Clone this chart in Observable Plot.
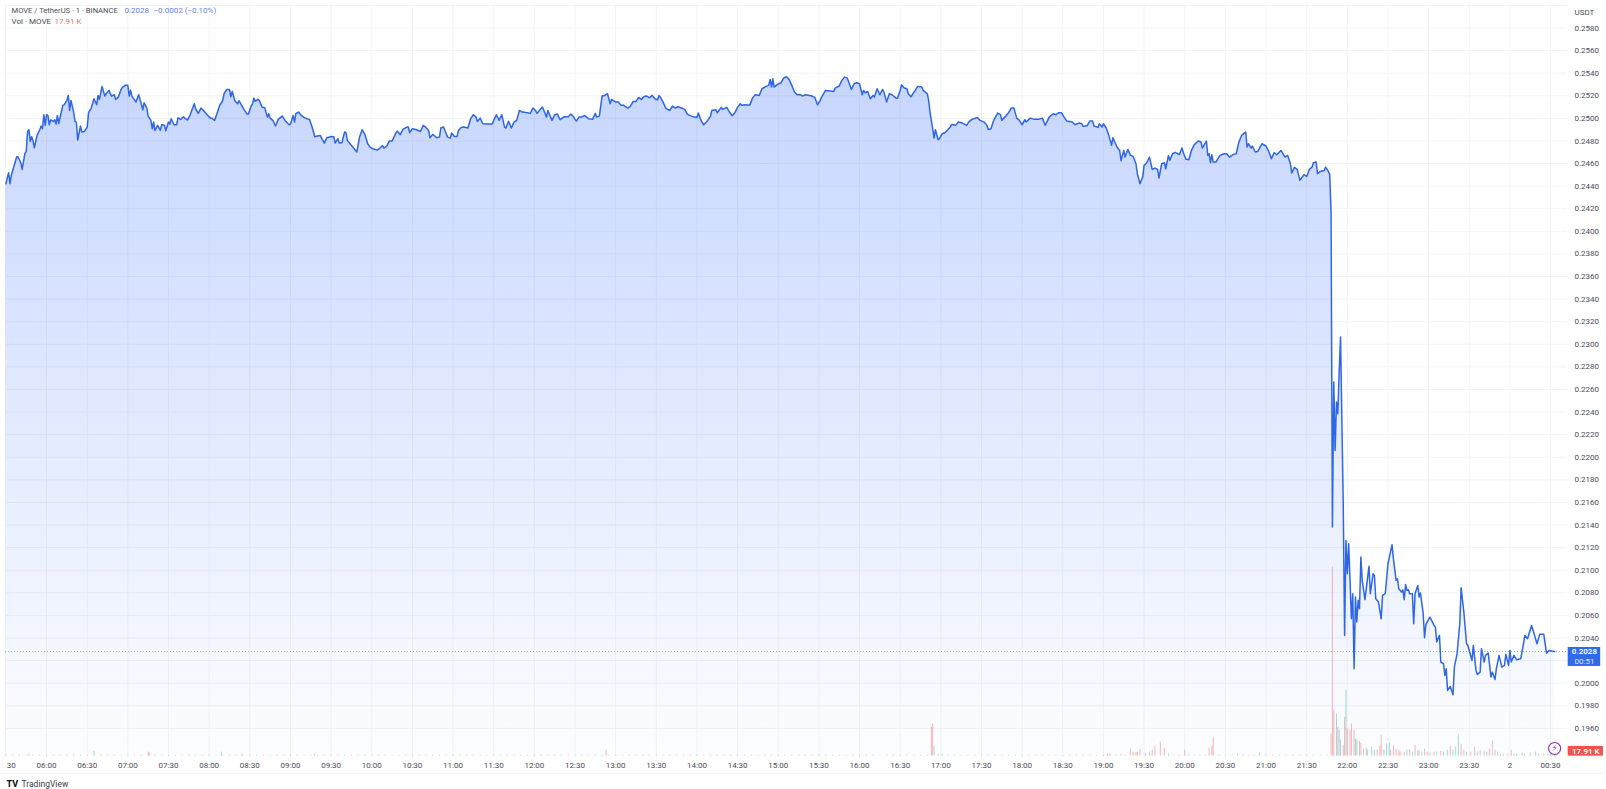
<!DOCTYPE html>
<html>
<head>
<meta charset="utf-8">
<script src="https://cdn.jsdelivr.net/npm/d3@7"></script>
<script src="https://cdn.jsdelivr.net/npm/@observablehq/plot@0.6"></script>
<style>
html,body{margin:0;padding:0;background:#fff;overflow:hidden}
svg{display:block}
</style>
</head>
<body>
<div id="chart"></div>
<script>
// Minutes after 05:30 for each price reading
const minutes = [
0,2,3,4,6,8,9,11,12,14,15,16,17,18,19,20,21,23,25,26,27,28,29,30,31,32,33,35,36,37,38,39,41,42,43,45,46,47,48,50,51,52,53,55,56,58,60,61,63,65,67,68,69,71,73,74,76,78,80,81,83,85,86,88,90,91,92,93,96,98,99,101,102,104,105,107,108,109,110,112,114,115,117,118,120,121,122,124,126,127,129,131,132,134,136,139,140,142,144,146,149,151,152,154,156,158,160,161,163,165,166,167,169,171,172,174,176,178,179,181,182,183,184,186,187,189,191,193,194,195,197,199,201,204,206,209,210,212,213,214,216,218,220,222,224,226,228,230,232,233,235,237,238,240,
242,243,245,246,248,250,251,252,254,256,259,261,263,265,267,269,271,274,276,278,279,281,283,285,288,289,291,293,296,297,298,300,303,306,308,310,312,313,315,318,320,321,323,324,326,328,329,331,333,334,336,338,341,343,345,347,348,350,352,355,359,360,362,364,366,368,369,371,373,375,377,379,381,385,387,389,391,392,394,396,399,400,403,405,407,409,412,415,417,419,421,423,425,427,430,433,435,436,438,440,442,444,446,447,450,452,454,456,459,461,463,465,467,469,471,473,475,477,479,481,482,483,
485,487,489,490,492,494,496,498,501,503,506,508,510,511,513,515,518,520,521,524,525,528,529,532,534,536,538,540,542,543,546,549,551,553,556,558,561,563,564,565,566,567,569,572,574,576,578,580,582,584,586,588,590,593,595,597,599,601,602,605,607,611,612,615,617,619,621,624,626,628,630,632,633,634,636,638,640,641,643,645,647,648,650,652,654,657,658,660,661,663,665,666,668,670,673,676,677,680,681,682,684,685,686,688,689,691,693,697,698,701,703,706,709,711,713,717,719,722,724,725,727,
729,732,734,735,738,740,742,744,746,748,750,752,753,756,759,762,765,767,770,773,775,777,779,781,783,787,789,792,794,795,798,800,802,803,806,807,809,810,812,814,816,817,820,822,823,825,826,828,830,832,834,835,837,839,840,842,844,846,848,850,851,853,855,856,858,859,861,863,866,868,869,871,873,875,877,880,882,883,886,887,888,889,890,891,893,896,899,901,903,906,908,910,912,915,916,917,919,920,922,924,927,930,932,934,936,938,941,944,946,948,949,951,953,955,958,960,962,964,965,967,968,970,973,974,976,977,
978,979,980,981,982,983,984,985,986,987,988,989,990,991,992,993,994,995,996,997,998,999,1000,1001,1003,1006,1007,1009,1010,1011,1013,1015,1016,1018,1020,1023,1024,1026,1027,1028,1030,1031,1032,1033,1034,1035,1036,1038,1039,1040,1042,1043,1044,1046,1047,1048,1051,1054,1055,1056,1058,1059,1061,1062,1063,1064,1066,1068,1069,1071,1073,1074,1076,1078,1079,1082,1083,1085,1086,1088,1089,1091,1092,1094,1096,1097,1099,1100,1102,1104,1106,1107,1109,1110,1111,1113,1115,1118,1120,1121,1123,1126,1128,1130,1132,1135,1137,1139,1141,1143
];
// MOVE / USDT price at each of those minutes
const prices = [
.24421,.24519,.24421,.24495,.24578,.24660,.24657,.24607,.24548,.24687,.24707,.24884,.24899,.24796,.24837,.24802,.24740,.24849,.24899,.24932,.24908,.25032,.24938,.25032,.25026,.24943,.24985,.24973,.24988,.24949,.25026,.24955,.25061,.25115,.25120,.25159,.25203,.25070,.25159,.25056,.24973,.24967,.24808,.24932,.24879,.24884,.24923,.25050,.25091,.25174,.25120,.25203,.25168,.25283,.25197,.25218,.25247,.25197,.25209,.25168,.25188,.25256,.25274,.25292,.25292,.25197,.25250,.25197,.25144,.25209,.25168,.25076,.25138,.25091,.25020,.24982,.24908,.24967,.24893,.24938,.24893,.24943,.24938,.24890,.24967,.24949,.24997,.24943,.24943,.25005,.24991,.25014,.25002,.24985,.25032,.25129,.25085,.25044,.25091,.25067,.25026,.25002,.25002,.24982,.25050,.25120,.25156,.25218,.25256,.25256,.25191,.25238,.25156,.25129,.25156,.25115,.25073,.25038,.25038,.25109,.25129,.25179,.25150,.25168,.25159,.25100,.25094,.25011,.25041,.25002,.24982,.24932,.24991,.25020,.24982,.24943,.24949,.25026,.24967,.25041,.25056,.25026,.25008,.24997,.24991,.24923,.24837,.24843,.24849,.24825,.24781,.24831,.24831,.24840,
.24837,.24781,.24820,.24781,.24784,.24879,.24873,.24805,.24775,.24746,.24702,.24834,.24899,.24855,.24775,.24743,.24731,.24719,.24737,.24758,.24737,.24752,.24799,.24799,.24873,.24887,.24855,.24902,.24923,.24923,.24873,.24908,.24899,.24884,.24938,.24920,.24893,.24828,.24858,.24828,.24834,.24914,.24923,.24893,.24834,.24825,.24870,.24840,.24840,.24893,.24920,.24923,.24914,.24997,.25032,.25011,.24973,.25002,.24952,.24949,.24949,.24982,.25032,.24982,.25032,.24923,.24914,.24973,.24914,.24967,.24982,.25070,.25056,.25050,.25044,.25091,.25067,.25044,.25073,.25100,.25011,.25070,.24982,.25032,.25038,.24988,.25014,.25014,.25038,.25011,.24976,.25011,.25011,.25026,.24997,.24991,.25044,.25011,.25020,.25197,.25203,.25218,.25129,.25168,.25144,.25144,.25115,.25115,.25091,.25109,.25150,.25150,.25185,.25168,.25194,.25197,.25182,.25203,.25174,.25165,.25203,.25188,
.25144,.25091,.25076,.25070,.25109,.25091,.25103,.25094,.25079,.25035,.25020,.25011,.25008,.25047,.24982,.24943,.24982,.25020,.25070,.25076,.25050,.25097,.25079,.25097,.25056,.25023,.25050,.25097,.25129,.25115,.25120,.25117,.25179,.25209,.25203,.25262,.25283,.25292,.25345,.25277,.25350,.25277,.25297,.25315,.25356,.25368,.25345,.25292,.25233,.25209,.25212,.25197,.25209,.25203,.25197,.25185,.25120,.25159,.25188,.25247,.25244,.25238,.25268,.25286,.25336,.25365,.25356,.25256,.25306,.25315,.25306,.25209,.25247,.25227,.25238,.25174,.25203,.25188,.25262,.25209,.25256,.25233,.25144,.25218,.25209,.25179,.25179,.25247,.25297,.25268,.25262,.25218,.25191,.25227,.25283,.25277,.25247,.25218,.25159,.25056,.24908,.24825,.24899,.24811,.24820,.24864,.24873,.24923,.24946,.24938,.24967,.24958,.24938,.24973,.24991,.25008,.24982,.24967,.24938,.24902,.24908,
.24982,.25047,.25032,.24982,.25020,.25050,.25091,.25091,.25002,.24982,.24943,.24988,.24967,.25002,.24991,.24991,.25002,.24938,.25011,.25041,.25032,.25050,.25050,.25011,.24976,.24967,.24943,.24958,.24952,.24929,.24935,.24976,.24976,.24932,.24920,.24952,.24923,.24952,.24917,.24849,.24761,.24828,.24746,.24716,.24625,.24716,.24657,.24725,.24672,.24663,.24598,.24510,.24421,.24480,.24583,.24607,.24657,.24548,.24560,.24548,.24471,.24598,.24607,.24554,.24672,.24628,.24687,.24699,.24678,.24737,.24696,.24637,.24634,.24716,.24766,.24799,.24790,.24737,.24799,.24672,.24687,.24607,.24678,.24613,.24613,.24672,.24687,.24687,.24657,.24681,.24687,.24790,.24849,.24879,.24746,.24775,.24737,.24755,.24702,.24707,.24775,.24755,.24707,.24643,.24696,.24678,.24716,.24657,.24672,.24598,.24516,.24566,.24548,.24451,.24501,.24486,.24548,.24569,.24607,.24613,.24510,.24530,.24539,.24569,.24530,.24504,
.24170,.21382,.22665,.22060,.22488,.22385,.22754,.23064,.22311,.21574,.20423,.21264,.20969,.21234,.20910,.20570,.20792,.20128,.20762,.20541,.20733,.20659,.21116,.20910,.20739,.21034,.20792,.20969,.20954,.20747,.20718,.20570,.20777,.20792,.21057,.21225,.21102,.20910,.20924,.20836,.20806,.20827,.20739,.20874,.20821,.20827,.20792,.20792,.20526,.20792,.20865,.20762,.20798,.20615,.20402,.20520,.20585,.20511,.20497,.20364,.20423,.20187,.20172,.20069,.20128,.19936,.19971,.19897,.20142,.20260,.20526,.20845,.20629,.20349,.20334,.20201,.20334,.20113,.20077,.20098,.20305,.20187,.20246,.20266,.20054,.20098,.20033,.20128,.20246,.20142,.20157,.20255,.20157,.20290,.20187,.20246,.20207,.20216,.20349,.20423,.20393,.20511,.20432,.20349,.20432,.20432,.20266,.20290,.20284,.20280
];
// Volume bars: minute after 05:30, volume in thousands (negative means a falling candle)
const volMinutes = [
0,5,10,15,17,20,25,30,35,40,45,50,55,60,65,70,75,80,85,90,95,100,105,106,110,115,120,125,130,135,140,145,150,155,159,160,165,170,174,175,180,185,190,195,200,205,210,215,220,225,228,230,235,240,
245,250,255,260,265,270,275,280,285,290,295,300,305,310,315,320,325,330,335,340,345,350,355,360,365,370,375,380,385,390,395,400,405,410,415,420,425,430,435,440,
443,
445,450,455,460,465,470,475,480,485,490,495,500,505,510,515,520,525,530,535,540,545,550,555,560,565,570,575,580,585,590,595,600,605,610,615,620,625,630,635,640,645,650,655,660,665,670,675,680,
683,684,685,688,691,695,
700,705,710,715,720,725,730,735,740,745,750,755,760,765,770,775,780,785,790,795,800,805,810,
813,815,819,823,826,830,832,834,835,837,841,844,846,848,852,855,858,862,866,870,873,877,881,885,888,890,891,
895,900,905,909,913,917,921,925,930,935,940,945,950,955,960,965,970,975,
978,979,980,982,983,984,985,987,988,989,990,992,993,995,996,997,999,1000,1002,1004,1005,1008,1010,1012,1014,1015,1017,1019,1021,1022,1024,1026,1028,1029,1032,1034,1036,1038,1040,1042,1043,1045,1047,1049,1051,1054,1056,1059,1061,1064,1066,1068,1070,1072,1074,1076,1078,1081,1084,1086,1088,1091,1093,1095,1097,1099,1101,1103,1105,1108,1111,1113,1115,1119,1121,1125,1129,1131,1135,1138,1140,1143
];
const volK = [
6,-5,6,-6,12,6,-6,5,-5,7,6,-6,6,-5,30,6,-5,-6,5,6,-6,5,-24,-18,-6,6,5,-6,-5,6,7,-6,6,5,24,-6,6,-5,-12,6,-6,5,-6,6,-5,6,-5,6,-6,5,-12,6,-6,5,
-6,6,-5,6,5,-6,-5,6,-6,5,6,-6,-5,6,5,-6,6,-5,6,-6,5,6,-5,-6,5,6,-5,6,-6,5,-6,6,-5,6,-6,5,6,-5,6,-6,
-36,
5,-6,6,-5,6,-6,5,6,-5,-6,6,5,-6,6,-5,6,-6,5,6,-5,-6,6,5,-6,6,-5,-6,6,5,-6,-5,6,6,-5,-6,5,6,-6,-5,6,5,-6,6,-5,6,-6,5,6,
-174,-192,60,12,12,6,
6,-5,6,-6,5,6,-5,-6,5,6,-6,5,-6,6,-5,6,5,-6,-5,6,-6,5,-6,
-12,-12,-6,-12,-6,-42,-24,-24,-24,-42,-18,24,-36,-60,-84,-48,12,-6,-6,-36,12,-6,6,5,-48,-60,-114,
6,-5,6,12,6,-5,6,18,6,-5,6,-6,5,6,-6,5,-6,6,
-132,-1134,-276,252,-174,156,96,-66,-234,396,-162,-156,-192,-156,102,96,-90,-78,42,-48,36,54,36,-36,-60,-126,36,72,78,-36,-60,-42,-36,-24,-24,36,-36,24,-66,30,-36,24,-42,-24,18,-24,24,-30,24,36,-60,36,54,126,-72,-36,24,-24,-54,24,-36,30,-24,-42,-90,36,-24,12,12,-12,-36,12,12,18,-12,18,24,12,-12,12,12,-18
];
// Grid levels, and the price labels (0.2020 sits under the last-price box, so it has no label)
const priceTicks = [.258,.256,.254,.252,.25,.248,.246,.244,.242,.24,.238,.236,.234,.232,.23,.228,.226,.224,.222,.22,.218,.216,.214,.212,.21,.208,.206,.204,.202,.2,.198,.196];
const priceLabels = [.258,.256,.254,.252,.25,.248,.246,.244,.242,.24,.238,.236,.234,.232,.23,.228,.226,.224,.222,.22,.218,.216,.214,.212,.21,.208,.206,.204,.2,.198,.196];
const timeTicks = [30,60,90,120,150,180,210,240,270,300,330,360,390,420,450,480,510,540,570,600,630,660,690,720,750,780,810,840,870,900,930,960,990,1020,1050,1080,1110,1140];
const lastPrice = 0.2028;
const volumeBase = 0.19354;
const priceDomain = [0.19342, 0.25999];
const minuteDomain = [-0.3, 1152.5];

const start = Date.UTC(2025, 4, 1, 5, 30);
const at = m => new Date(start + m * 60000);
const hhmm = d3.utcFormat("%H:%M");
const series = minutes.map((m, i) => ({t: at(m), p: prices[i]}));
const vols = volMinutes.map((m, i) => ({t: at(m), v: volK[i]}));
const volY = k => volumeBase + Math.abs(k) * 1.4755e-5;
const ink = "#4a4d57";

const defs = () => {
  const d = d3.create("svg:defs");
  const g = d.append("linearGradient").attr("id", "fade").attr("x1", 0).attr("x2", 0).attr("y1", 0).attr("y2", 1);
  g.append("stop").attr("offset", 0).attr("stop-color", "#2962ff").attr("stop-opacity", 0.26);
  g.append("stop").attr("offset", 1).attr("stop-color", "#2962ff").attr("stop-opacity", 0.012);
  return d.node();
};

const plot = Plot.plot({
  width: 1606, height: 789,
  marginTop: 5, marginLeft: 5, marginRight: 39, marginBottom: 32,
  style: {fontFamily: "Roboto, sans-serif", fontSize: "8px", background: "#fff", color: ink},
  x: {type: "utc", domain: minuteDomain.map(at), range: [5, 1567]},
  y: {domain: priceDomain, range: [757, 5]},
  marks: [
    defs,
    Plot.ruleY(priceTicks, {stroke: "#f1f3f8", strokeWidth: 1}),
    Plot.ruleX(timeTicks.map(at), {stroke: "#f1f3f8", strokeWidth: 1}),
    Plot.ruleY([priceDomain[1]], {stroke: "#f1f3f8"}),
    Plot.ruleX([at(minuteDomain[0])], {stroke: "#f1f3f8"}),
    Plot.ruleY([0.19201], {x1: at(-4), x2: at(1181), stroke: "#f0f3fa"}),
    Plot.areaY(series, {x: "t", y1: volumeBase, y2: "p", fill: "url(#fade)"}),
    Plot.ruleX(vols.filter(d => d.v < 0), {x: "t", y1: volumeBase, y2: d => volY(d.v), stroke: "#ef5350", strokeOpacity: 0.42, strokeWidth: 1}),
    Plot.ruleX(vols.filter(d => d.v >= 0), {x: "t", y1: volumeBase, y2: d => volY(d.v), stroke: "#26a69a", strokeOpacity: 0.42, strokeWidth: 1}),
    Plot.ruleY([lastPrice], {stroke: "#2962ff", strokeOpacity: 0.55, strokeDasharray: "1,2"}),
    Plot.lineY(series, {x: "t", y: "p", stroke: "#2f66e6", strokeWidth: 1.5, strokeLinejoin: "round"}),
    Plot.axisY({anchor: "right", ticks: priceLabels, tickSize: 0, tickPadding: 7, tickFormat: d3.format(".4f"), label: null, color: ink}),
    Plot.axisX({anchor: "bottom", ticks: timeTicks.map(at), tickSize: 0, tickPadding: 5, label: null, color: ink,
      tickFormat: d => +d === +at(1110) ? "2" : hhmm(d)}),
    Plot.text(["30"], {x: at(4), frameAnchor: "bottom", dy: 10, fill: ink}),
    // legend
    Plot.text(["MOVE / TetherUS · 1 · BINANCE"], {frameAnchor: "top-left", dx: 6, dy: 2, fill: ink, textAnchor: "start", fontSize: 7.6}),
    Plot.text(["0.2028"], {frameAnchor: "top-left", dx: 119, dy: 2, fill: "#5f86dd", textAnchor: "start"}),
    Plot.text(["−0.0002 (−0.10%)"], {frameAnchor: "top-left", dx: 148, dy: 2, fill: "#5f86dd", textAnchor: "start"}),
    Plot.text(["Vol · MOVE"], {frameAnchor: "top-left", dx: 6, dy: 13, fill: ink, textAnchor: "start"}),
    Plot.text(["17.91 K"], {frameAnchor: "top-left", dx: 49, dy: 13, fill: "#e57373", textAnchor: "start"}),
    // right axis extras
    Plot.text(["USDT"], {x: at(1165), y: 0.2594, fill: ink}),
    Plot.rect([0], {x1: at(1153), x2: at(1177), y1: 0.20148, y2: 0.20316, fill: "#2f6be8"}),
    Plot.text(["0.2028"], {x: at(1165), y: 0.20281, fill: "#fff", fontWeight: 600}),
    Plot.text(["00:51"], {x: at(1165), y: 0.20190, fill: "#dfe8ff"}),
    Plot.rect([0], {x1: at(1153), x2: at(1179), y1: volumeBase, y2: 0.19440, fill: "#ef5350"}),
    Plot.text(["17.91 K"], {x: at(1166), y: 0.19395, fill: "#fff", fontWeight: 600}),
    Plot.dot([0], {x: at(1143), y: 0.19422, r: 6, stroke: "#9c27b0", strokeWidth: 1.1, fill: "#fff"}),
    Plot.text(["⚡"], {x: at(1143), y: 0.19422, fill: "#9c27b0", fontSize: 9, fontFamily: "DejaVu Sans"}),
    // brand
    Plot.text(["TV"], {frameAnchor: "bottom-left", dx: 1, dy: 29, fill: "#131722", fontWeight: 800, fontSize: 9, textAnchor: "start"}),
    Plot.text(["TradingView"], {frameAnchor: "bottom-left", dx: 16, dy: 29, fill: "#3a3d47", fontSize: 8.5, textAnchor: "start"})
  ]
});
document.getElementById("chart").append(plot);
</script>
</body>
</html>
